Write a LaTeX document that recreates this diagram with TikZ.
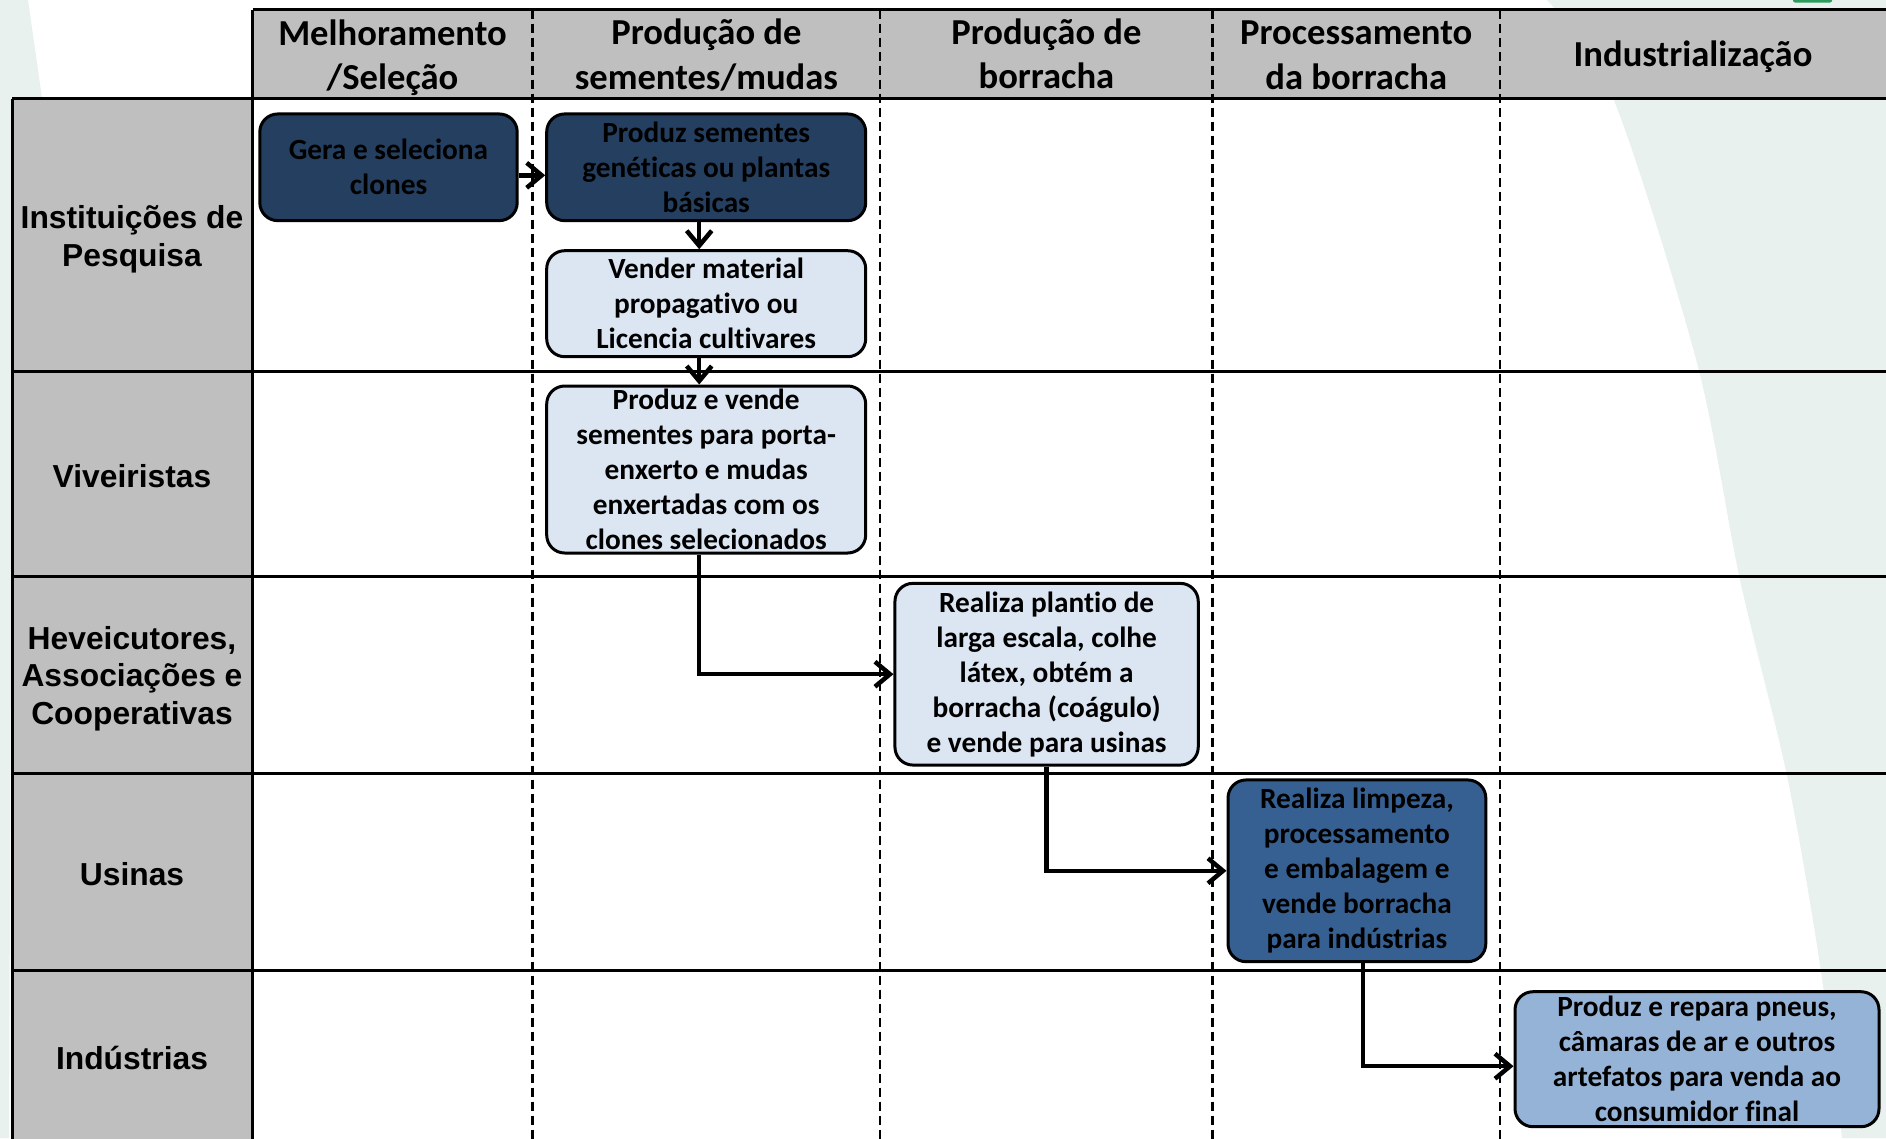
\documentclass[tikz,border=0pt]{standalone}
\usepackage{fontspec}
\setmainfont{Carlito}[Ligatures=NoCommon]
\newfontfamily\lanefont{Liberation Sans}
\usetikzlibrary{arrows.meta}

\definecolor{bgtint}{HTML}{E8F1EE}
\definecolor{lanegray}{HTML}{BFBFBF}
\definecolor{navy}{HTML}{243F60}
\definecolor{paleblue}{HTML}{DCE6F2}
\definecolor{midblue}{HTML}{376092}
\definecolor{skyblue}{HTML}{95B3D7}
\definecolor{logogreen}{HTML}{2E9B5E}

\begin{document}
\begin{tikzpicture}[x=1pt,y=-1pt,
  rule/.style={line width=3pt,draw=black},
  sep/.style={line width=2.2pt,draw=black,dash pattern=on 9pt off 5pt},
  head/.style={align=center,inner sep=0pt,font=\bfseries\fontsize{36.6}{44.5}\selectfont},
  lane/.style={align=center,inner sep=0pt,font=\lanefont\bfseries\fontsize{31.8}{37.5}\selectfont},
  task/.style={draw=black,line width=3pt,rounded corners=18pt,inner sep=0pt,
    align=center,text=black,font=\bfseries\fontsize{29.3}{35}\selectfont},
  flow/.style={line width=4.5pt,-{Straight Barb[length=15pt,width=25pt]}}]

\useasboundingbox (0,0) rectangle (1886,1138);

% soft background shapes
\fill[bgtint] (0,0) -- (28,0) -- (42,98) -- (12,400) -- (9,1138) -- (0,1138) -- cycle;
\fill[bgtint] plot[smooth] coordinates {(1547,0) (1613,98) (1697,363) (1740,580) (1787,776) (1820,965) (1842,1138)}
  -- (1886,1138) -- (1886,0) -- cycle;
\fill[logogreen,rounded corners=2pt] (1793,-6) rectangle (1832,2.5);

% grey header band and lane column
\fill[lanegray] (252.6,9.6) rectangle (1890,98.6);
\fill[lanegray] (12,98.6) rectangle (252.6,1142);

% grid
\foreach \x in {532.5,880.3,1212.5,1500} \draw[sep] (\x,9.6) -- (\x,1142);
\draw[rule] (252.6,9.6) -- (1890,9.6);
\draw[rule] (252.6,9.6) -- (252.6,1142);
\draw[rule] (12,98.6) -- (12,1142);
\foreach \y in {98.6,371,576,773.4,970.7} \draw[rule] (12,\y) -- (1890,\y);

% column titles
\node[head] (h1) at (392.5,57.6) {Melhoramento\\/Seleção};
\node[head] (h2) at (706.4,55.2) {Produção de\\sementes/mudas};
\node[head] (h3) at (1046.4,54) {Produção de\\borracha};
\node[head] (h4) at (1356.2,55.2) {Processamento\\da borracha};
\node[head] (h5) at (1693,57) {Industrialização};

% lane titles
\node[lane] (r1) at (132,239.3) {Instituições de\\Pesquisa};
\node[lane] (r2) at (132,475.9) {Viveiristas};
\node[lane] (r3) at (132,678.3) {Heveicutores,\\Associações e\\Cooperativas};
\node[lane] (r4) at (132,874.4) {Usinas};
\node[lane] (r5) at (132,1058) {Indústrias};

% activities
\node[task,fill=navy,minimum width=257.4pt,minimum height=106.7pt] (b1) at (388.5,167.3)
  {Gera e seleciona\\clones};
\node[task,fill=navy,minimum width=319pt,minimum height=106.7pt] (b2) at (706.2,167.3)
  {Produz sementes\\genéticas ou plantas\\básicas};
\node[task,fill=paleblue,minimum width=319pt,minimum height=106pt] (b3) at (706.2,303.7)
  {Vender material\\propagativo ou\\Licencia cultivares};
\node[task,fill=paleblue,minimum width=319pt,minimum height=167pt] (b4) at (706.2,469.5)
  {Produz e vende\\sementes para porta-\\enxerto e mudas\\enxertadas com os\\clones selecionados};
\node[task,fill=paleblue,minimum width=303.3pt,minimum height=181.7pt] (b5) at (1046.6,674.2)
  {Realiza plantio de\\larga escala, colhe\\látex, obtém a\\borracha (coágulo)\\e vende para usinas};
\node[task,fill=midblue,minimum width=257.8pt,minimum height=181.7pt] (b6) at (1356.9,870.8)
  {Realiza limpeza,\\processamento\\e embalagem e\\vende borracha\\para indústrias};
\node[task,fill=skyblue,minimum width=364pt,minimum height=135pt] (b7) at (1697,1059.2)
  {Produz e repara pneus,\\câmaras de ar e outros\\artefatos para venda ao\\consumidor final};

% flow
\draw[flow] ([yshift=-8pt]b1.east) -- ([yshift=-8pt]b2.west);
\draw[flow] ([xshift=-7pt]b2.south) -- ([xshift=-7pt]b3.north);
\draw[flow] ([xshift=-7pt]b3.south) -- ([xshift=-7pt]b4.north);
\draw[flow] ([xshift=-7pt]b4.south) |- (b5.west);
\draw[flow] (b5.south) |- (b6.west);
\draw[flow] ([xshift=6pt]b6.south) |- ([yshift=-7pt]b7.west);
\end{tikzpicture}
\end{document}
